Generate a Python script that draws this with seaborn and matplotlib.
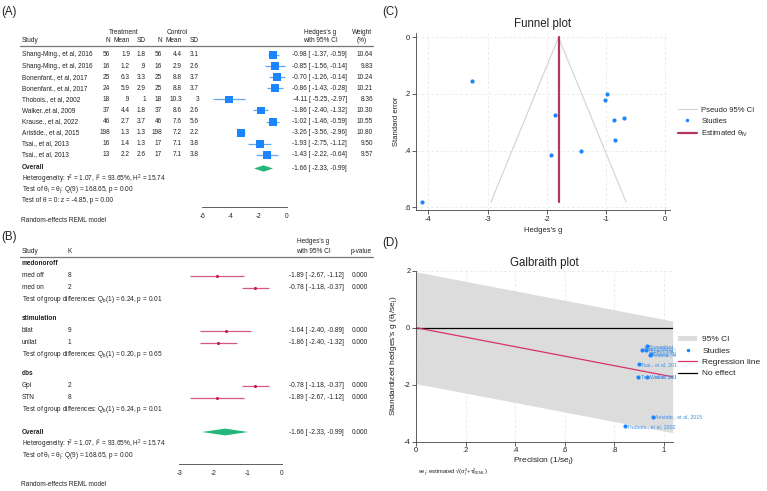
import numpy as np
import matplotlib
matplotlib.use("Agg")
import matplotlib.pyplot as plt
import seaborn as sns
from matplotlib.lines import Line2D
from matplotlib.patches import Polygon, Patch
from matplotlib.ticker import FuncFormatter

# -------------------------------------------------------
# DATA - panel A (individual studies)
# -------------------------------------------------------
studies = ["Shang-Ming., et al, 2016", "Shang-Ming., et al, 2016", "Bonenfant., et al, 2017",
           "Bonenfant., et al, 2017", "Thobois., et al, 2002", "Walker.,et al, 2009",
           "Krause., et al, 2022", "Aristide., et al, 2015", "Tsai., et al, 2013", "Tsai., et al, 2013"]
trt_n = [56, 16, 25, 24, 18, 37, 46, 198, 16, 13]
trt_mean = [1.9, 1.2, 6.3, 5.9, 0.9, 4.4, 2.7, 1.3, 1.4, 2.2]
trt_sd = [1.8, 0.9, 3.3, 2.9, 1, 1.8, 3.7, 1.3, 1.3, 2.6]
ctl_n = [56, 16, 25, 25, 18, 37, 46, 198, 17, 17]
ctl_mean = [4.4, 2.9, 8.8, 8.8, 10.3, 8.6, 7.6, 7.2, 7.1, 7.1]
ctl_sd = [3.1, 2.6, 3.7, 3.7, 3, 2.6, 5.6, 2.2, 3.8, 3.8]
g = [-0.98, -0.85, -0.70, -0.86, -4.11, -1.86, -1.02, -3.26, -1.93, -1.43]
g_lo = [-1.37, -1.56, -1.26, -1.43, -5.25, -2.40, -1.46, -3.56, -2.75, -2.22]
g_hi = [-0.59, -0.14, -0.14, -0.28, -2.97, -1.32, -0.59, -2.96, -1.12, -0.64]
weight = [10.64, 9.83, 10.24, 10.21, 8.36, 10.30, 10.55, 10.80, 9.50, 9.57]

overall_g, overall_lo, overall_hi = -1.66, -2.33, -0.99
tau2, i2, h2 = 1.07, 93.65, 15.74
q_stat, q_df, q_p = 168.65, 9, 0.00
z_stat, z_p = -4.85, 0.00

# -------------------------------------------------------
# DATA - panel B (subgroups)
# -------------------------------------------------------
group_names = ["medonoroff", "stimulation", "dbs"]
group_levels = [["med off", "med on"], ["bilat", "unilat"], ["Gpi", "STN"]]
group_k = [[8, 2], [9, 1], [2, 8]]
group_g = [[-1.89, -0.78], [-1.64, -1.86], [-0.78, -1.89]]
group_lo = [[-2.67, -1.18], [-2.40, -2.40], [-1.18, -2.67]]
group_hi = [[-1.12, -0.37], [-0.89, -1.32], [-0.37, -1.12]]
group_pval = [[0.000, 0.000], [0.000, 0.000], [0.000, 0.000]]
group_qb = [6.24, 0.20, 6.24]
group_qp = [0.01, 0.65, 0.01]
overall_pval = 0.000

# -------------------------------------------------------
# STYLE
# -------------------------------------------------------
sns.set_style("white")
plt.rcParams['font.family'] = ['Liberation Sans', 'DejaVu Sans']
plt.rcParams['mathtext.fontset'] = 'custom'
plt.rcParams['mathtext.rm'] = 'Liberation Sans'
plt.rcParams['mathtext.it'] = 'Liberation Sans'
plt.rcParams['mathtext.bf'] = 'Liberation Sans:bold'
plt.rcParams['axes.unicode_minus'] = False

BLUE = '#1a85ff'
CI_BLUE = '#62a8f0'
GREEN = '#25b77a'
CRAN = '#c2185b'
CI_CRAN = '#d4588a'
TXT = '#222222'
FS = 4.7

W, H = 767, 491
fig = plt.figure(figsize=(W / 100, H / 100), dpi=100)


def fx(px):
    return px / W


def fy(py):
    return 1 - py / H


def txt(px, py, s, ha='left', size=FS, **kw):
    fig.text(fx(px), fy(py), s, ha=ha, va='center', fontsize=size, color=kw.pop('color', TXT), **kw)


def hline(px0, px1, py):
    fig.add_artist(Line2D([fx(px0), fx(px1)], [fy(py), fy(py)], color='#777777', lw=0.9))


def stata_num(v):
    s = f"{v:g}"
    if s.startswith("0."):
        s = s[1:]
    elif s.startswith("-0."):
        s = "-" + s[2:]
    return s


stata_fmt = FuncFormatter(lambda v, pos: stata_num(round(v, 6)))


def ci_text(est, lo, hi):
    return f"{est:.2f} [ {lo:.2f}, {hi:.2f}]"


def forest_axis(ax, ticks):
    ax.patch.set_alpha(0)
    for s in ['top', 'right', 'left']:
        ax.spines[s].set_visible(False)
    ax.spines['bottom'].set_bounds(ticks[0], ticks[-1])
    ax.spines['bottom'].set_color('#444444')
    ax.spines['bottom'].set_linewidth(0.6)
    ax.set_xticks(ticks)
    ax.set_yticks([])
    ax.xaxis.set_major_formatter(stata_fmt)
    ax.tick_params(axis='x', length=2.5, width=0.6, color='#444444', labelsize=FS, pad=1.5, labelcolor=TXT)


# -------------------------------------------------------
# PANEL A - forest plot
# -------------------------------------------------------
ax_a = fig.add_axes([0, fy(207), fx(390), (207 - 30) / H])
zero_a, ppu_a = 287, 14.1
ax_a.set_xlim(-zero_a / ppu_a, (390 - zero_a) / ppu_a)
ax_a.set_ylim(207, 30)
forest_axis(ax_a, [-6, -4, -2, 0])

rows_a = 55 + 11.1 * np.arange(len(studies))
ax_a.hlines(rows_a, g_lo, g_hi, color=CI_BLUE, lw=0.9, zorder=2)
side_pt = 2.46 * np.sqrt(weight) * 0.72
ax_a.scatter(g, rows_a, s=side_pt ** 2, marker='s', color=BLUE, linewidths=0, zorder=3)

y_ov_a = 168.5
ax_a.add_patch(Polygon([(overall_lo, y_ov_a), (overall_g, y_ov_a - 3.2),
                        (overall_hi, y_ov_a), (overall_g, y_ov_a + 3.2)],
                       closed=True, color=GREEN, lw=0))

txt(1.5, 12, "(A)", size=8.3)
txt(124, 32.3, "Treatment", ha='center')
txt(177, 32.3, "Control", ha='center')
txt(320, 32.3, "Hedges's g", ha='center')
txt(362, 32.3, "Weight", ha='center')
txt(21.5, 41, "Study")
for px, lab in zip([110, 130, 146, 162, 182, 199], ["N", "Mean", "SD", "N", "Mean", "SD"]):
    txt(px, 41, lab, ha='right')
txt(320, 41, "with 95% CI", ha='center')
txt(362, 41, "(%)", ha='center')
hline(20, 373, 45.5)

for i, y in enumerate(rows_a):
    txt(21.5, y, studies[i])
    vals = [trt_n[i], trt_mean[i], trt_sd[i], ctl_n[i], ctl_mean[i], ctl_sd[i]]
    for px, v in zip([110, 130, 146, 162, 182, 199], vals):
        txt(px, y, stata_num(v), ha='right')
    txt(347, y, ci_text(g[i], g_lo[i], g_hi[i]), ha='right')
    txt(373, y, f"{weight[i]:.2f}", ha='right')

txt(21.5, 167.7, "Overall", fontweight='bold')
txt(347, 168.5, ci_text(overall_g, overall_lo, overall_hi), ha='right')
txt(21.5, 179.3, f"Heterogeneity: τ$^2$ = {tau2:.2f}, I$^2$ = {i2:.2f}%, H$^2$ = {h2:.2f}")
txt(21.5, 190, f"Test of θ$_i$ = θ$_j$: Q({q_df}) = {q_stat:.2f}, p = {q_p:.2f}")
txt(21.5, 201, f"Test of θ = 0: z = {z_stat:.2f}, p = {z_p:.2f}")
txt(21, 220, "Random-effects REML model")

# -------------------------------------------------------
# PANEL B - subgroup forest plot
# -------------------------------------------------------
ax_b = fig.add_axes([0, fy(464), fx(390), (464 - 240) / H])
zero_b, ppu_b = 282, 34.3
ax_b.set_xlim(-zero_b / ppu_b, (390 - zero_b) / ppu_b)
ax_b.set_ylim(464, 240)
forest_axis(ax_b, [-3, -2, -1, 0])

txt(1.5, 237, "(B)", size=8.3)
txt(313, 241.5, "Hedges's g", ha='center')
txt(21.5, 251.5, "Study")
txt(67.5, 251.5, "K")
txt(313, 251.5, "with 95% CI", ha='center')
txt(361, 251.5, "p-value", ha='center')
hline(20, 373, 256.5)

step, gap = 12, 19
y = 263.5
for gi, name in enumerate(group_names):
    txt(21.5, y, name, fontweight='bold')
    y += step
    for li, lev in enumerate(group_levels[gi]):
        txt(21.5, y, lev)
        txt(67.5, y, str(group_k[gi][li]))
        ax_b.hlines(y, group_lo[gi][li], group_hi[gi][li], color=CI_CRAN, lw=0.9, zorder=2)
        ax_b.scatter([group_g[gi][li]], [y], s=5, color=CRAN, linewidths=0, zorder=3)
        txt(344, y, ci_text(group_g[gi][li], group_lo[gi][li], group_hi[gi][li]), ha='right')
        txt(368, y, f"{group_pval[gi][li]:.3f}", ha='right')
        y += step
    txt(21.5, y, f"Test of group differences: Q$_b$(1) = {group_qb[gi]:.2f}, p = {group_qp[gi]:.2f}")
    if gi < len(group_names) - 1:
        y += gap

y_ov_b = y + 22.5
ax_b.add_patch(Polygon([(overall_lo, y_ov_b), (overall_g, y_ov_b - 3.4),
                        (overall_hi, y_ov_b), (overall_g, y_ov_b + 3.4)],
                       closed=True, color=GREEN, lw=0))
txt(21.5, y_ov_b, "Overall", fontweight='bold')
txt(344, y_ov_b, ci_text(overall_g, overall_lo, overall_hi), ha='right')
txt(368, y_ov_b, f"{overall_pval:.3f}", ha='right')
txt(21.5, y_ov_b + 12, f"Heterogeneity: τ$^2$ = {tau2:.2f}, I$^2$ = {i2:.2f}%, H$^2$ = {h2:.2f}")
txt(21.5, y_ov_b + 24, f"Test of θ$_i$ = θ$_j$: Q({q_df}) = {q_stat:.2f}, p = {q_p:.2f}")
txt(21, 485, "Random-effects REML model")

# -------------------------------------------------------
# PANEL C - funnel plot
# -------------------------------------------------------
g_arr = np.array(g)
se = (np.array(g_hi) - np.array(g_lo)) / (2 * 1.96)
w_iv = 1 / se ** 2
theta_iv = np.sum(w_iv * g_arr) / np.sum(w_iv)
se_max = se.max()

ax_c = fig.add_axes([fx(416), fy(210), fx(670) - fx(416), (210 - 33) / H])
ax_c.grid(True, ls=(0, (4, 3)), color='#e4e4e4', lw=0.5)
ax_c.set_axisbelow(True)
ax_c.plot([theta_iv - 1.96 * se_max, theta_iv, theta_iv + 1.96 * se_max], [se_max, 0, se_max],
          color='#d2d2d2', lw=0.8)
sns.scatterplot(x=g_arr, y=se, ax=ax_c, color=BLUE, s=9, linewidth=0, zorder=3)
ax_c.plot([theta_iv, theta_iv], [0, se_max], color='#b0385c', lw=1.6, zorder=2)
ax_c.set_xlim(-4.207, 0.08)
ax_c.set_ylim(0.61, -0.0156)
ax_c.set_xticks([-4, -3, -2, -1, 0])
ax_c.set_yticks([0, 0.2, 0.4, 0.6])

txt(382, 12, "(C)", size=8.3)
txt(543, 24.3, "Funnel plot", ha='center', size=8.3)
txt(543, 230, "Hedges's g", ha='center', size=5.5)
fig.text(fx(396), fy(121.5), "Standard error", rotation=90, ha='center', va='center', fontsize=5.5, color=TXT)

c_handles = [Line2D([], [], color='#d2d2d2', lw=0.8),
             Line2D([], [], color=BLUE, marker='o', ls='none', markersize=2.5, markeredgewidth=0),
             Line2D([], [], color='#b0385c', lw=1.6)]
c_labels = ["Pseudo 95% CI", "Studies", "Estimated θ$_{IV}$"]
ax_c.legend(c_handles, c_labels, loc='center left', bbox_to_anchor=(fx(676), fy(122.7)),
            bbox_transform=fig.transFigure, fontsize=5.5, frameon=False, handlelength=2.6,
            handletextpad=0.5, labelspacing=0.5, borderpad=0.2, borderaxespad=0)

# -------------------------------------------------------
# PANEL D - Galbraith plot
# -------------------------------------------------------
prec = 1 / np.sqrt(se ** 2 + tau2)
zstd = g_arr * prec
slope = np.sum(prec * zstd) / np.sum(prec ** 2)

ax_d = fig.add_axes([fx(416), fy(441.7), fx(672.7) - fx(416), (441.7 - 270.7) / H])
ax_d.set_xlim(0, 1.037)
ax_d.set_ylim(-4, 2)
ax_d.grid(True, ls=(0, (4, 3)), color='#e4e4e4', lw=0.5)
ax_d.set_axisbelow(True)
xs = np.array(ax_d.get_xlim())
ax_d.fill_between(xs, slope * xs - 1.96, slope * xs + 1.96, color='#dcdcdc', lw=0, zorder=1)
ax_d.axhline(0, color='black', lw=0.9, zorder=2)
ax_d.plot(xs, slope * xs, color='#d6336c', lw=0.9, zorder=2)
sns.scatterplot(x=prec, y=zstd, ax=ax_d, color=BLUE, s=9, linewidth=0, zorder=3)
for p, z, name in zip(prec, zstd, studies):
    ax_d.annotate(name, (p, z), xytext=(1.8, 0), textcoords='offset points', fontsize=3.8,
                  color='#3d8fe8', va='center', ha='left', annotation_clip=False, zorder=3)
ax_d.set_xticks([0, 0.2, 0.4, 0.6, 0.8, 1])
ax_d.set_yticks([2, 0, -2, -4])

txt(382, 243, "(D)", size=8.3)
txt(544, 263.3, "Galbraith plot", ha='center', size=8.3)
txt(544, 461, "Precision (1/se$_j$)", ha='center', size=6)
fig.text(fx(394), fy(356), "Standardized hedges's g (θ$_j$/se$_j$)", rotation=90,
         ha='center', va='center', fontsize=6, color=TXT)
txt(418, 472.5, "se$_j$: estimated √(σ$_j^2$+τ$^2_{REML}$)", size=4.2)

d_handles = [Patch(facecolor='#dcdcdc', edgecolor='none'),
             Line2D([], [], color=BLUE, marker='o', ls='none', markersize=2.5, markeredgewidth=0),
             Line2D([], [], color='#d6336c', lw=0.9),
             Line2D([], [], color='black', lw=0.9)]
d_labels = ["95% CI", "Studies", "Regression line", "No effect"]
leg_d = ax_d.legend(d_handles, d_labels, loc='center left', bbox_to_anchor=(fx(676), fy(356.5)),
                    bbox_transform=fig.transFigure, fontsize=6, frameon=True, facecolor='white',
                    edgecolor='none', framealpha=1, fancybox=False, handlelength=2.3,
                    handletextpad=0.6, labelspacing=0.42, borderpad=0.25, borderaxespad=0)
leg_d.set_zorder(10)

for ax in [ax_c, ax_d]:
    for s in ['top', 'right']:
        ax.spines[s].set_visible(False)
    for s in ['left', 'bottom']:
        ax.spines[s].set_color('#444444')
        ax.spines[s].set_linewidth(0.6)
    ax.xaxis.set_major_formatter(stata_fmt)
    ax.yaxis.set_major_formatter(stata_fmt)
    ax.tick_params(length=2.6, width=0.6, color='#444444', labelsize=5.4, pad=1.5, labelcolor=TXT,
                   bottom=True, left=True)

fig.savefig("out.png", dpi=100, facecolor='white')
